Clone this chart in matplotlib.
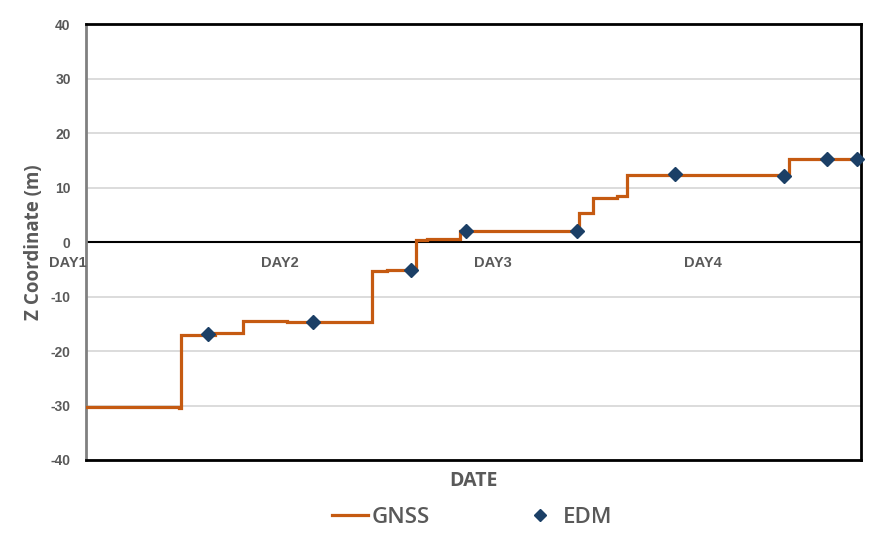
#!/usr/bin/env python3
"""
Z coordinate over time: GNSS step series vs EDM check points
"""

import numpy as np
import matplotlib
matplotlib.use("Agg")
import matplotlib.pyplot as plt
from matplotlib.lines import Line2D

# GNSS series (time in hours from start, Z in m), drawn as steps
gnss_t = [0.0, 11.5, 11.8, 16.0, 19.45, 24.9, 35.4, 37.3, 40.9, 42.2, 46.3,
          61.1, 62.8, 65.8, 67.0, 87.1, 96.0]
gnss_z = [-30.3, -30.5, -17.1, -16.6, -14.5, -14.7, -5.4, -5.1, 0.3, 0.5, 2.0,
          5.3, 8.1, 8.4, 12.3, 15.3, 15.3]

# EDM check points
edm_t = [15.05, 28.16, 40.26, 47.03, 60.86, 72.96, 86.46, 91.75, 95.47]
edm_z = [-16.9, -14.7, -5.2, 2.0, 2.0, 12.4, 12.2, 15.3, 15.3]

# day labels along the zero line
day_labels = ["DAY1", "DAY2", "DAY3", "DAY4"]
day_pos = [-2.3, 24.0, 50.4, 76.4]

y_ticks = [-40, -30, -20, -10, 0, 10, 20, 30, 40]

GNSS_COLOR = "#C55A11"
EDM_COLOR = "#1B3F66"
TEXT_COLOR = "#595959"

fig = plt.figure(figsize=(8.94, 5.36), dpi=100)
ax = fig.add_axes([0.0962, 0.1418, 0.867, 0.8132])

ax.plot(gnss_t, gnss_z, drawstyle="steps-post", color=GNSS_COLOR,
        linewidth=2.3, zorder=3, solid_joinstyle="miter")
ax.plot(edm_t, edm_z, linestyle="none", marker="D", markersize=7.5,
        color=EDM_COLOR, zorder=4, clip_on=False)

ax.set_xlim(0, 96)
ax.set_ylim(-40, 40)
ax.set_yticks(y_ticks)
ax.set_yticklabels([str(v) for v in y_ticks], fontfamily="Liberation Sans",
                   fontweight="bold", fontsize=10, color=TEXT_COLOR)
ax.set_xticks([])
ax.tick_params(axis="y", length=0, pad=11)

ax.grid(axis="y", color="#D9D9D9", linewidth=1.3)
ax.set_axisbelow(True)
ax.axhline(0, color="black", linewidth=1.5, zorder=2)

for side in ["top", "right", "bottom"]:
    ax.spines[side].set_color("black")
    ax.spines[side].set_linewidth(2)
ax.spines["left"].set_color("#808080")
ax.spines["left"].set_linewidth(2)

for lab, pos in zip(day_labels, day_pos):
    ax.text(pos, -3.8, lab, ha="center", va="center", fontsize=10.5,
            fontfamily="Liberation Sans", fontweight="bold", color=TEXT_COLOR,
            clip_on=False)

ax.set_ylabel("Z Coordinate (m)", fontfamily="Open Sans", fontweight="bold",
              fontsize=13.5, color=TEXT_COLOR, labelpad=5)
fig.text(0.530, 0.102, "DATE", ha="center", va="center", fontfamily="Open Sans",
         fontweight="bold", fontsize=14, color=TEXT_COLOR)

handles = [Line2D([], [], color=GNSS_COLOR, linewidth=2.3),
           Line2D([], [], linestyle="none", marker="D", markersize=6.5,
                  color=EDM_COLOR)]
fig.legend(handles, ["GNSS", "EDM"], loc="center", bbox_to_anchor=(0.528, 0.035),
           ncol=2, frameon=False, handlelength=1.6, handletextpad=0.2,
           columnspacing=4.15,
           prop={"family": "Open Sans", "weight": "semibold", "size": 16},
           labelcolor=TEXT_COLOR)

plt.savefig("out.png", dpi=100)
plt.close()
